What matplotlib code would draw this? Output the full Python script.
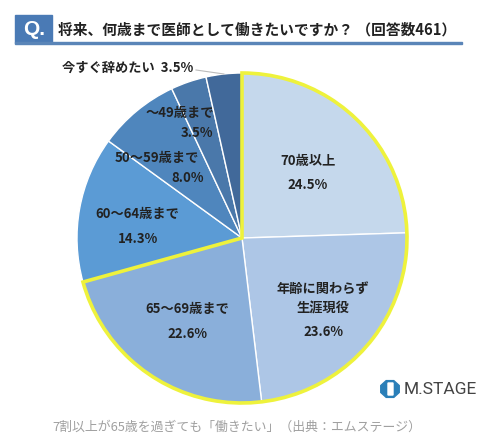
import matplotlib
matplotlib.use("Agg")
import matplotlib.pyplot as plt
from matplotlib.patches import Wedge, Rectangle, RegularPolygon, FancyBboxPatch
import numpy as np

plt.rcParams['font.family'] = ['Noto Sans CJK JP', 'DejaVu Sans']

categories = ["70歳以上", "年齢に関わらず\n生涯現役", "65～69歳まで", "60～64歳まで",
              "50～59歳まで", "～49歳まで", "今すぐ辞めたい"]
values = [24.5, 23.6, 22.6, 14.3, 8.0, 3.5, 3.5]
colors = ["#c5d8ec", "#adc6e6", "#8aafda", "#5b9bd5", "#4f86bd", "#4a78aa", "#41699a"]
highlight_n = 3  # first three slices = over 65

title = "将来、何歳まで医師として働きたいですか？ （回答数461）"
caption = "7割以上が65歳を過ぎても「働きたい」（出典：エムステージ）"

W, H = 494, 448
fig = plt.figure(figsize=(W / 100, H / 100), dpi=100)

cx, cy, R = 242, 238, 165
ax = fig.add_axes([(cx - R) / W, (H - cy - R) / H, 2 * R / W, 2 * R / H])
wedges, _ = ax.pie(values, colors=colors, startangle=90, counterclock=False,
                   radius=1, wedgeprops=dict(edgecolor="white", linewidth=1.0))
ax.set_xlim(-1, 1)
ax.set_ylim(-1, 1)
ax.set_aspect("equal")
ax.axis("off")

# yellow highlight of the >=65 group
frac = sum(values[:highlight_n]) / sum(values)
ax.add_patch(Wedge((0, 0), 1.0, 90 - 360 * frac, 90, facecolor="none",
                   edgecolor="#eef23c", linewidth=2.6, zorder=5, clip_on=False))

def px(x, y):
    return ((x - cx) / R, (cy - y) / R)

lab_color = "#222222"
fs = 9.5
label_pos = [
    [("70歳以上", 308, 161), ("24.5%", 308, 185)],
    [("年齢に関わらず", 323, 289), ("生涯現役", 323, 309), ("23.6%", 323, 332)],
    [("65～69歳まで", 187, 309), ("22.6%", 187, 334)],
    [("60～64歳まで", 137, 214), ("14.3%", 138, 239)],
    [("50～59歳まで", 157, 158), ("8.0%", 188, 178)],
    [("～49歳まで", 180, 113), ("3.5%", 197, 133)],
]
for grp in label_pos:
    for t, x, y in grp:
        X, Y = px(x, y)
        ax.text(X, Y, t, ha="center", va="center", fontsize=fs,
                fontweight="bold", color=lab_color, zorder=6)

# outside label with leader line
X, Y = px(193, 68)
ax.text(X, Y, "今すぐ辞めたい  3.5%", ha="right", va="center", fontsize=fs,
        fontweight="bold", color=lab_color, zorder=6)
mid = np.deg2rad(90 - 360 * (1 - values[-1] / sum(values) / 2))
x0, y0 = px(196, 70)
ax.plot([x0, np.cos(mid)], [y0, np.sin(mid)], color="#bbbbbb", lw=0.8,
        clip_on=False, zorder=6)

# title bar
fig.patches.append(Rectangle((15 / W, 1 - 43 / H), 37 / W, 28 / H,
                             transform=fig.transFigure, color="#4a7ab5"))
fig.text(34 / W, 1 - 29.5 / H, "Q.", ha="center", va="center",
         fontsize=15, fontweight="bold", color="white",
         family=['Liberation Sans', 'DejaVu Sans'])
fig.patches.append(Rectangle((15 / W, 1 - 44.5 / H), 447 / W, 2 / H,
                             transform=fig.transFigure, color="#5a85b8"))
fig.text(58 / W, 1 - 30 / H, title, ha="left", va="center", fontsize=10.6,
         fontweight="bold", color="#222222")

# logo
lx, ly = 390, 389
fig.patches.append(RegularPolygon((lx / W, 1 - ly / H), 8, radius=10 / W,
                                  orientation=np.pi / 8, transform=fig.transFigure,
                                  color="#2a7fb8"))
fig.patches.append(FancyBboxPatch(((lx - 2) / W, 1 - (ly + 6) / H), 5 / W, 12 / H,
                                  boxstyle="round,pad=0", transform=fig.transFigure,
                                  color="white"))
fig.text(404 / W, 1 - ly / H, "M.STAGE", ha="left", va="center", fontsize=12.5,
         color="#444444", family=['Roboto', 'DejaVu Sans'])

fig.text(237 / W, 1 - 427 / H, caption, ha="center", va="center", fontsize=9.3,
         color="#a0a0a0")

fig.savefig("out.png", dpi=100)
